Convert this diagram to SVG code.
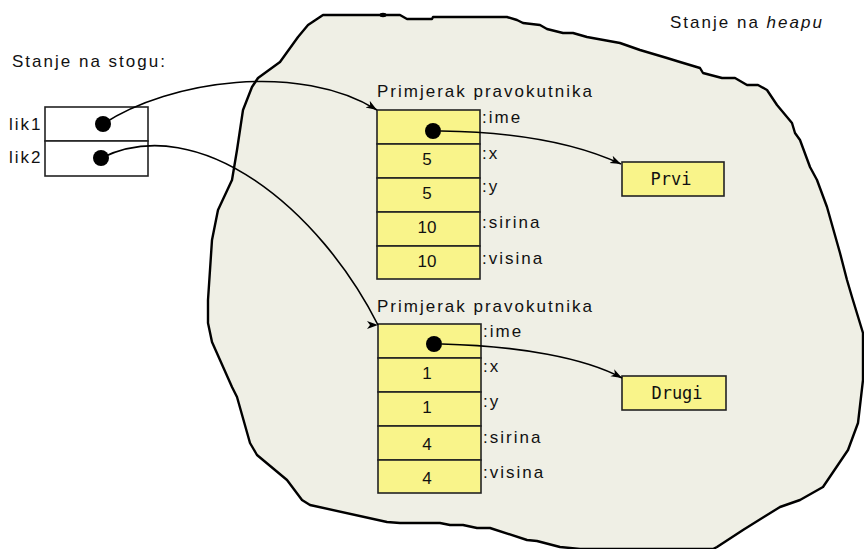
<svg xmlns="http://www.w3.org/2000/svg" width="864" height="549" viewBox="0 0 864 549">
<style>
.t{font-family:"Liberation Sans",Arial,sans-serif;font-size:17px;letter-spacing:2px;fill:#111}
.v{font-family:"Liberation Sans",Arial,sans-serif;font-size:17px;fill:#111;text-anchor:middle}
.m{font-family:"DejaVu Sans Mono","Liberation Mono",monospace;font-size:17px;fill:#111;text-anchor:middle}
.cell{fill:#F9F48A;stroke:#222;stroke-width:1.6}
.stk{fill:#fff;stroke:#222;stroke-width:1.6}
.con{fill:none;stroke:#000;stroke-width:1.6}
</style>
<defs>
<marker id="ah" markerUnits="userSpaceOnUse" markerWidth="12" markerHeight="10" refX="11" refY="4" orient="auto">
<path d="M0,0 L11,4 L0,8 L3,4 Z" fill="#000"/>
</marker>
<marker id="ahh" markerUnits="userSpaceOnUse" markerWidth="12" markerHeight="10" refX="11" refY="4" orient="0">
<path d="M0,0 L11,4 L0,8 L3,4 Z" fill="#000"/>
</marker>
</defs>
<g id="heap">
<path d="M323,15 L383,15 L400,15 L407,19 L432,19 L433,17 L507,17 L517,20 L523,23 L540,25 L547,29 L563,33 L573,33 L587,37 L620,43 L640,50 L667,58 L680,62 L700,68 L703,73 L722,78 L735,78 L747,85 L758,85 L767,90 L777,105 L792,123 L795,133 L800,140 L810,167 L817,180 L827,207 L840,253 L847,280 L852,297 L863,333 L863,380 L858,423 L848,450 L823,487 L800,500 L780,507 L743,530 L717,547 L713,549 L580,549 L560,547 L537,541 L527,540 L490,528 L477,528 L463,525 L450,525 L440,523 L400,523 L387,522 L310,505 L302,500 L287,480 L257,455 L250,443 L237,397 L232,387 L212,342 L208,323 L208,300 L212,240 L218,210 L232,180 L237,150 L243,110 L252,87 L258,78 L280,62 L298,37 L308,25 Z" fill="#EFEFE5" stroke="#000" stroke-width="2.4" stroke-linejoin="round"/>
<ellipse cx="383" cy="15" rx="3.5" ry="2.2" fill="#000"/>
<text class="t" x="670" y="28">Stanje na <tspan font-style="italic">heapu</tspan></text>
</g>
<g id="stack">
<text class="t" x="12" y="67">Stanje na stogu:</text>
<rect class="stk" x="45" y="107" width="103" height="34"/>
<rect class="stk" x="45" y="141" width="103" height="35"/>
<text class="t" x="9" y="130">lik1</text>
<text class="t" x="9" y="163">lik2</text>
<circle cx="103" cy="124" r="8" fill="#000"/>
<circle cx="101" cy="158" r="8" fill="#000"/>
</g>
<g id="obj1">
<text class="t" x="377" y="97">Primjerak pravokutnika</text>
<rect class="cell" x="377" y="110" width="103" height="34"/>
<rect class="cell" x="377" y="144" width="103" height="34"/>
<rect class="cell" x="377" y="178" width="103" height="34"/>
<rect class="cell" x="377" y="212" width="103" height="34"/>
<rect class="cell" x="377" y="246" width="103" height="33"/>
<circle cx="433" cy="131" r="8" fill="#000"/>
<text class="v" x="427" y="165">5</text>
<text class="v" x="427" y="199">5</text>
<text class="v" x="427" y="233">10</text>
<text class="v" x="427" y="267">10</text>
<text class="t" x="482" y="123">:ime</text>
<text class="t" x="482" y="159">:x</text>
<text class="t" x="482" y="192">:y</text>
<text class="t" x="482" y="228">:sirina</text>
<text class="t" x="482" y="264">:visina</text>
</g>
<g id="obj2">
<text class="t" x="377" y="312">Primjerak pravokutnika</text>
<rect class="cell" x="378" y="324" width="103" height="34"/>
<rect class="cell" x="378" y="358" width="103" height="34"/>
<rect class="cell" x="378" y="392" width="103" height="34"/>
<rect class="cell" x="378" y="426" width="103" height="34"/>
<rect class="cell" x="378" y="460" width="103" height="33"/>
<circle cx="434" cy="344" r="8" fill="#000"/>
<text class="v" x="427" y="379">1</text>
<text class="v" x="427" y="413">1</text>
<text class="v" x="427" y="450">4</text>
<text class="v" x="427" y="484">4</text>
<text class="t" x="483" y="337">:ime</text>
<text class="t" x="483" y="372">:x</text>
<text class="t" x="483" y="407">:y</text>
<text class="t" x="483" y="443">:sirina</text>
<text class="t" x="483" y="478">:visina</text>
</g>
<g id="prvi">
<rect class="cell" x="622" y="162" width="102" height="34"/>
<text class="m" x="671" y="185">Prvi</text>
</g>
<g id="drugi">
<rect class="cell" x="622" y="376" width="104" height="34"/>
<text class="m" x="677" y="399">Drugi</text>
</g>
<g id="connectors">
<path class="con" d="M103,124 C170,80 300,62 377,110" marker-end="url(#ah)"/>
<path class="con" d="M101,158 C200,110 320,210 378,325" marker-end="url(#ahh)"/>
<path class="con" d="M441,131 C520,132 580,145 621,164" marker-end="url(#ah)"/>
<path class="con" d="M442,344 C520,346 585,358 622,378" marker-end="url(#ah)"/>
</g>
</svg>
